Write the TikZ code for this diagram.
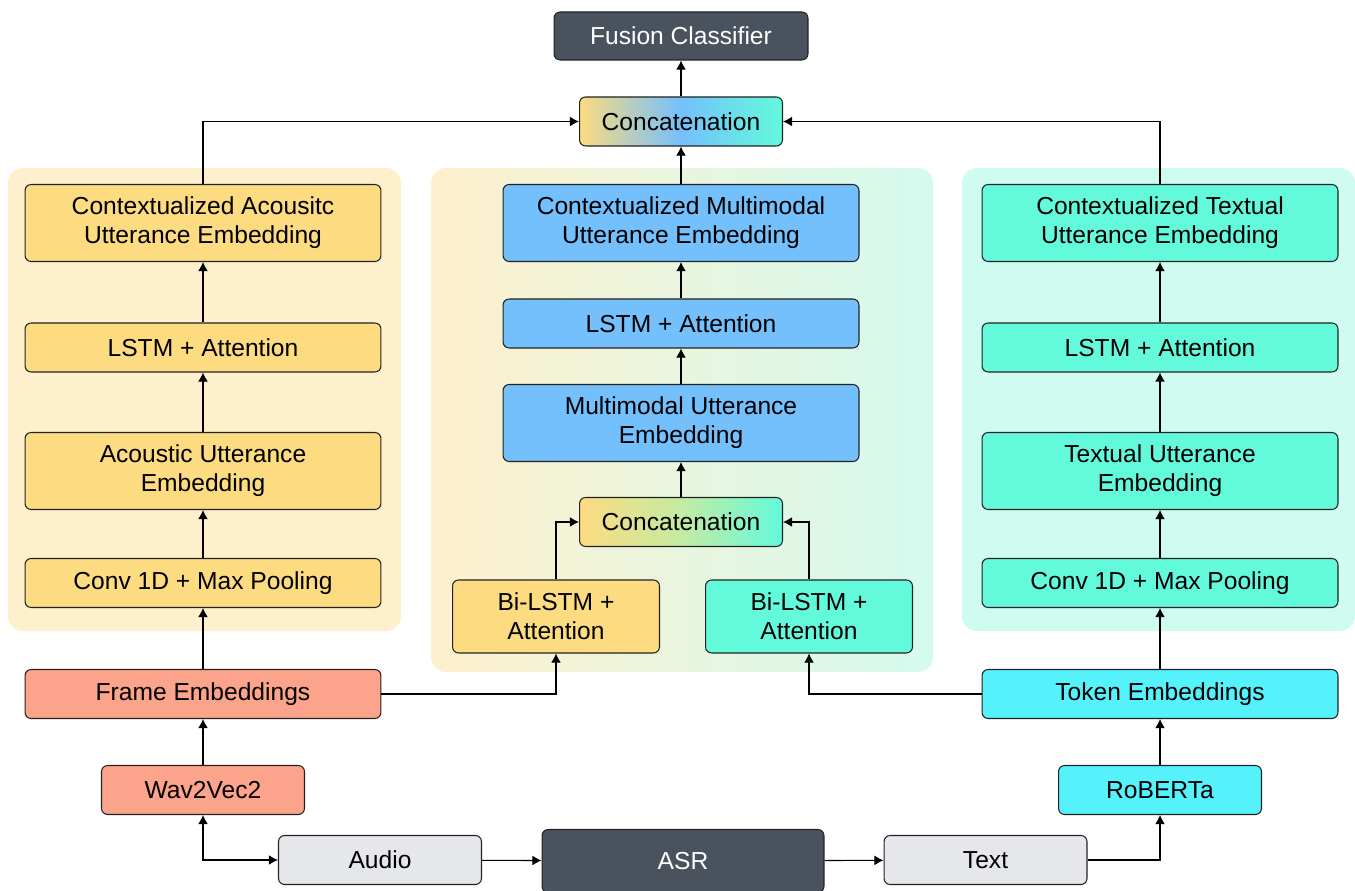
\documentclass[tikz,border=0pt]{standalone}
\usepackage{fontspec}
\setmainfont{Liberation Sans}
\usepackage{tikz}
\usetikzlibrary{shapes, arrows.meta}

\definecolor{dark}{HTML}{4A535D}
\definecolor{edge}{HTML}{222222}
\definecolor{yel}{HTML}{FDDB80}
\definecolor{salmon}{HTML}{FCA48B}
\definecolor{sky}{HTML}{74C0FC}
\definecolor{aqua}{HTML}{63FADC}
\definecolor{token}{HTML}{56F2FC}
\definecolor{grey}{HTML}{E5E7EB}
\definecolor{lgreen}{HTML}{C4EBA2}
\definecolor{panelA}{HTML}{FEF0CD}
\definecolor{panelT}{HTML}{CFFBF0}
\definecolor{panelM}{HTML}{D4FAEF}

\tikzstyle{block} = [rectangle, draw=edge, line width=0.6pt, text centered, align=center,
rounded corners=3.5pt, minimum height=0.98cm, minimum width=7.12cm, inner sep=0pt,
font=\fontsize{14}{16.5}\selectfont]
\tikzstyle{tall} = [minimum height=1.54cm]
\tikzstyle{small} = [minimum width=4.06cm]
\tikzstyle{bilstm} = [minimum width=4.14cm, minimum height=1.46cm]
\tikzstyle{line} = [draw, line width=0.6pt, -{Latex[length=5.2pt,width=5.6pt]}]

\begin{document}
\begin{tikzpicture}[x=0.02cm, y=-0.02cm]
	\useasboundingbox (0,0) rectangle (1355,891);

	% Panels
	\fill [panelA, rounded corners=8.5pt] (8,168) rectangle (401,631);
	\shade [left color=panelA, right color=panelM, rounded corners=8.5pt] (431,168) rectangle (933,672);
	\fill [panelT, rounded corners=8.5pt] (962,168) rectangle (1355,631);

	% Place nodes
	\node [block, fill=dark, text=white, minimum width=5.08cm, minimum height=0.96cm] (Fusion) at (681,36) {Fusion Classifier};
	\node [block, small, left color=yel, right color=aqua, middle color=sky] (Concat) at (681,121.5) {Concatenation};

	\node [block, tall, fill=yel]		(CAUE)	at (203,223)	{Contextualized Acousitc\\Utterance Embedding};
	\node [block, fill=yel]				(LSTMA)	at (203,347.5)	{LSTM + Attention};
	\node [block, tall, fill=yel]		(AUE)	at (203,471)	{Acoustic Utterance\\Embedding};
	\node [block, fill=yel]				(ConvA)	at (203,583)	{Conv 1D + Max Pooling};
	\node [block, fill=salmon]			(FE)	at (203,694)	{Frame Embeddings};
	\node [block, small, fill=salmon]	(Wav2Vec2) at (203,790) {Wav2Vec2};

	\node [block, tall, fill=sky]		(CMUE)	at (681,223)	{Contextualized Multimodal\\Utterance Embedding};
	\node [block, fill=sky]				(LSTMM)	at (681,323.5)	{LSTM + Attention};
	\node [block, tall, fill=sky]		(MUE)	at (681,423)	{Multimodal Utterance\\Embedding};
	\node [block, small, left color=yel, right color=aqua, middle color=lgreen] (ConcatM) at (681,522) {Concatenation};
	\node [block, bilstm, fill=yel]		(BiA)	at (556,616.5)	{Bi-LSTM +\\Attention};
	\node [block, bilstm, fill=aqua]	(BiT)	at (809,616.5)	{Bi-LSTM +\\Attention};

	\node [block, tall, fill=aqua]		(CTUE)	at (1160,223)	{Contextualized Textual\\Utterance Embedding};
	\node [block, fill=aqua]			(LSTMT)	at (1160,347.5)	{LSTM + Attention};
	\node [block, tall, fill=aqua]		(TUE)	at (1160,471)	{Textual Utterance\\Embedding};
	\node [block, fill=aqua]			(ConvT)	at (1160,583)	{Conv 1D + Max Pooling};
	\node [block, fill=token]			(TE)	at (1160,694)	{Token Embeddings};
	\node [block, small, fill=token]	(RoBERTa) at (1160,790) {RoBERTa};

	\node [block, small, fill=grey]		(Audio)	at (380,860)	{Audio};
	\node [block, fill=dark, text=white, minimum width=5.64cm, minimum height=1.26cm] (ASR) at (683,861) {ASR};
	\node [block, small, fill=grey]		(Text)	at (985.5,860)	{Text};

	%Draw edges
	\path [line, {Latex[length=5.2pt,width=5.6pt]}-{Latex[length=5.2pt,width=5.6pt]}] (Wav2Vec2) |- (Audio);
	\path [line] (Audio)	-- (ASR);
	\path [line] (ASR)		-- (Text);
	\path [line] (Text)		-| (RoBERTa);
	\path [line] (Wav2Vec2)	-- (FE);
	\path [line] (RoBERTa)	-- (TE);

	\path [line] (FE)		-- (ConvA);
	\path [line] (ConvA)	-- (AUE);
	\path [line] (AUE)		-- (LSTMA);
	\path [line] (LSTMA)	-- (CAUE);
	\path [line] (TE)		-- (ConvT);
	\path [line] (ConvT)	-- (TUE);
	\path [line] (TUE)		-- (LSTMT);
	\path [line] (LSTMT)	-- (CTUE);

	\path [line] (FE)		-| (BiA);
	\path [line] (TE)		-| (BiT);
	\path [line] (BiA)		|- (ConcatM);
	\path [line] (BiT)		|- (ConcatM);
	\path [line] (ConcatM)	-- (MUE);
	\path [line] (MUE)		-- (LSTMM);
	\path [line] (LSTMM)	-- (CMUE);
	\path [line] (CMUE)		-- (Concat);
	\path [line] (CAUE)		|- (Concat);
	\path [line] (CTUE)		|- (Concat);
	\path [line] (Concat)	-- (Fusion);

\end{tikzpicture}
\end{document}
